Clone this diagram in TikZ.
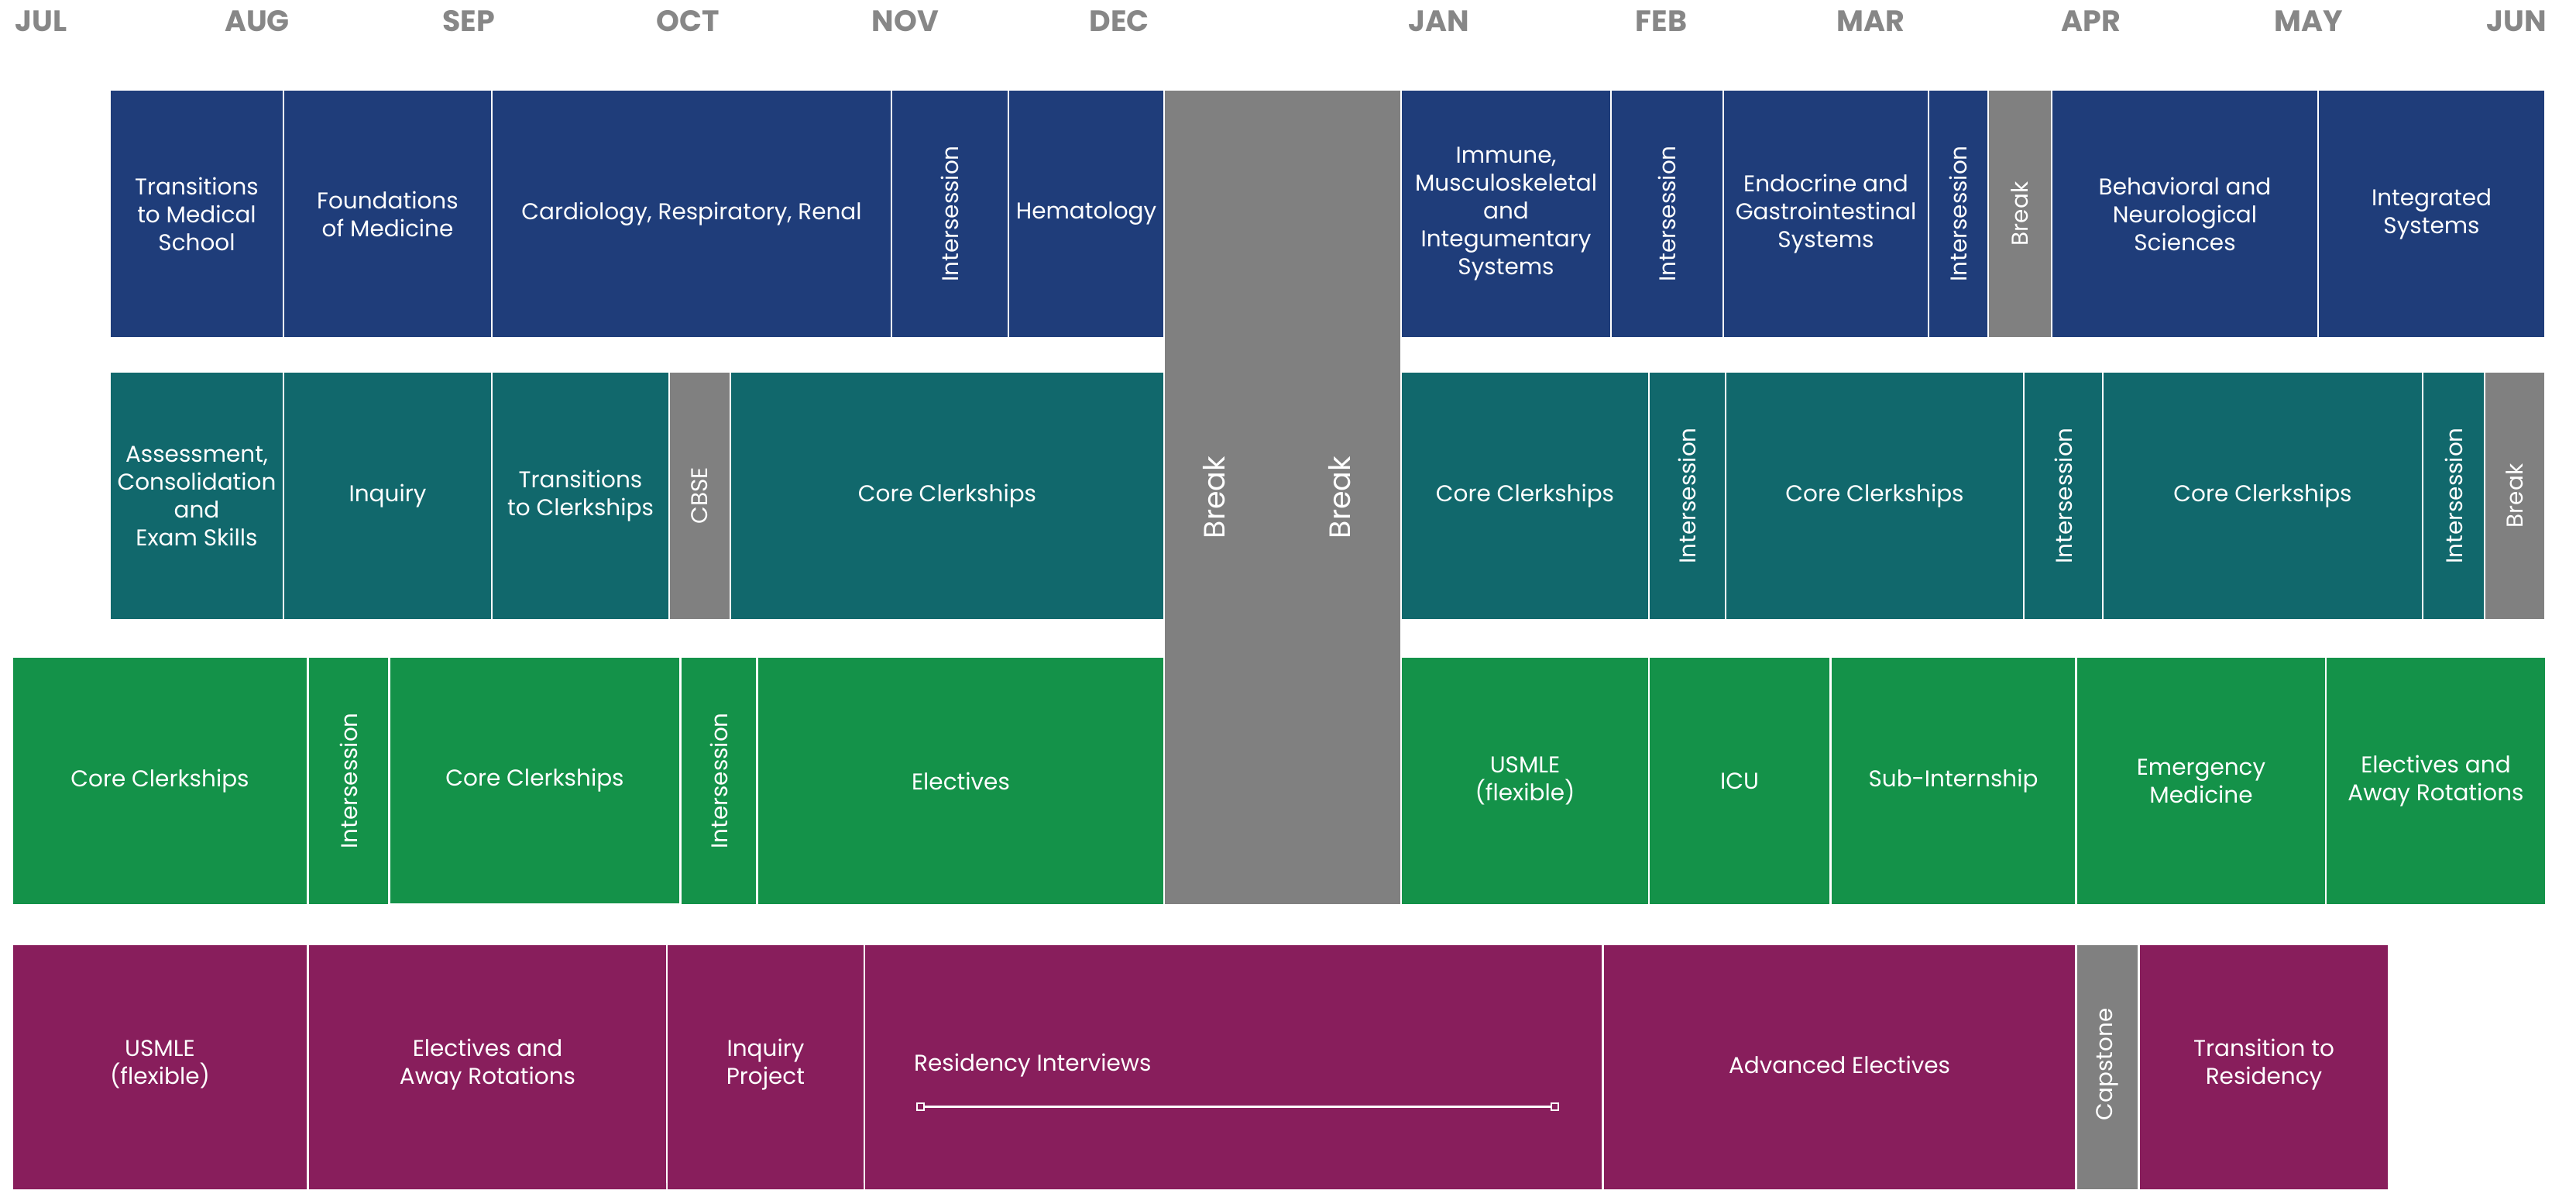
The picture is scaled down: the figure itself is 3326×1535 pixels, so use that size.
\documentclass[tikz,border=0pt]{standalone}
\usepackage{fontspec}
\setmainfont{Poppins}
\definecolor{cblue}{RGB}{31,61,122}
\definecolor{cteal}{RGB}{17,104,108}
\definecolor{cgreen}{RGB}{20,146,73}
\definecolor{cpurple}{RGB}{136,30,92}
\definecolor{cgray}{RGB}{128,128,128}
\definecolor{cmonth}{RGB}{135,135,135}
\newcommand\bodyfont{\fontsize{29.5}{36}\selectfont}
\newcommand\blkH[7]{\node[#6, minimum width={#3-#2}, minimum height={#5-#4}] (#1) at ({(#2+#3)/2},{(#4+#5)/2}) {#7};}
\newcommand\blkV[7]{\node[#6, rotate=90, minimum height={#3-#2}, minimum width={#5-#4}] (#1) at ({(#2+#3)/2},{(#4+#5)/2}) {#7};}
\tikzset{
  blk/.style={inner sep=0pt, outer sep=0pt, text=white, align=center, font=\bodyfont},
  sblue/.style={blk, fill=cblue},
  steal/.style={blk, fill=cteal},
  sgreen/.style={blk, fill=cgreen},
  spurple/.style={blk, fill=cpurple},
  sgray/.style={blk, fill=cgray},
  month/.style={anchor=base, text=cmonth, font=\fontsize{38}{38}\selectfont\bfseries, inner sep=0pt},
  vlabel/.style={rotate=90, text=white, inner sep=0pt},
  endsq/.style={draw=white, fill=cpurple, line width=2pt, minimum size=9pt, inner sep=0pt},
  rline/.style={draw=white, line width=3pt}
}
\begin{document}
\begin{tikzpicture}[x=1pt, y=-1pt]
\useasboundingbox (0,0) rectangle (3326,1535);
% months
\node[month] (jul) at (53,40) {JUL};
\node[month] (aug) at (332,40) {AUG};
\node[month] (sep) at (605,40) {SEP};
\node[month] (oct) at (888,40) {OCT};
\node[month] (nov) at (1169,40) {NOV};
\node[month] (dec) at (1445,40) {DEC};
\node[month] (jan) at (1858,40) {JAN};
\node[month] (feb) at (2145,40) {FEB};
\node[month] (mar) at (2415,40) {MAR};
\node[month] (apr) at (2700,40) {APR};
\node[month] (may) at (2981,40) {MAY};
\node[month] (jun) at (3249,40) {JUN};
% big break
\blkH{bigbreak}{1504}{1808}{117}{1167}{sgray}{}
\node[vlabel, font=\fontsize{38}{38}\selectfont] (breakA) at (1568,642) {Break};
\node[vlabel, font=\fontsize{38}{38}\selectfont] (breakB) at (1730,642) {Break};
% row 1
\blkH{a1}{143}{365}{117}{435}{sblue}{Transitions\\to Medical\\School}
\blkH{a2}{367}{634}{117}{435}{sblue}{Foundations\\of Medicine}
\blkH{a3}{636}{1150}{117}{435}{sblue}{Cardiology, Respiratory, Renal}
\blkV{a4}{1152}{1301}{117}{435}{sblue}{Intersession}
\blkH{a5}{1303}{1502}{117}{435}{sblue}{Hematology}
\blkH{a6}{1810}{2079}{117}{435}{sblue}{Immune,\\Musculoskeletal\\and\\Integumentary\\Systems}
\blkV{a7}{2081}{2224}{117}{435}{sblue}{Intersession}
\blkH{a8}{2226}{2489}{117}{435}{sblue}{Endocrine and\\Gastrointestinal\\Systems}
\blkV{a9}{2491}{2566}{117}{435}{sblue}{Intersession}
\blkV{a10}{2568}{2648}{117}{435}{sgray}{Break}
\blkH{a11}{2650}{2992}{117}{435}{sblue}{Behavioral and\\Neurological\\Sciences}
\blkH{a12}{2994}{3285}{117}{435}{sblue}{Integrated\\Systems}
% row 2
\blkH{b1}{143}{365}{481}{799}{steal}{Assessment,\\Consolidation\\and\\Exam Skills}
\blkH{b2}{367}{634}{481}{799}{steal}{Inquiry}
\blkH{b3}{636}{863}{481}{799}{steal}{Transitions\\to Clerkships}
\blkV{b4}{865}{942}{481}{799}{sgray}{CBSE}
\blkH{b5}{944}{1502}{481}{799}{steal}{Core Clerkships}
\blkH{b6}{1810}{2128}{481}{799}{steal}{Core Clerkships}
\blkV{b7}{2130}{2227}{481}{799}{steal}{Intersession}
\blkH{b8}{2229}{2612}{481}{799}{steal}{Core Clerkships}
\blkV{b9}{2614}{2714}{481}{799}{steal}{Intersession}
\blkH{b10}{2716}{3127}{481}{799}{steal}{Core Clerkships}
\blkV{b11}{3129}{3207}{481}{799}{steal}{Intersession}
\blkV{b12}{3209}{3285}{481}{799}{sgray}{Break}
% row 3
\blkH{c1}{17}{396}{849}{1167}{sgreen}{Core Clerkships}
\blkV{c2}{399}{501}{849}{1167}{sgreen}{Intersession}
\blkH{c3}{504}{877}{849}{1166}{sgreen}{Core Clerkships}
\blkV{c4}{880}{976}{849}{1167}{sgreen}{Intersession}
\blkH{c5}{979}{1502}{849}{1167}{sgreen}{Electives}
\blkH{c6}{1810}{2128}{849}{1167}{sgreen}{USMLE\\(flexible)}
\blkH{c7}{2130}{2362}{849}{1167}{sgreen}{ICU}
\blkH{c8}{2365}{2679}{849}{1167}{sgreen}{Sub-Internship}
\blkH{c9}{2682}{3002}{849}{1167}{sgreen}{Emergency\\Medicine}
\blkH{c10}{3004}{3286}{849}{1167}{sgreen}{Electives and\\Away Rotations}
% row 4
\blkH{d1}{17}{396}{1220}{1528}{spurple}{USMLE\\(flexible)}
\blkH{d2}{399}{860}{1220}{1528}{spurple}{Electives and\\Away Rotations}
\blkH{d3}{862}{1115}{1220}{1528}{spurple}{Inquiry\\Project}
\blkH{d4}{1117}{2068}{1220}{1528}{spurple}{}
\blkH{d5}{2071}{2679}{1220}{1528}{spurple}{Advanced Electives}
\blkV{d6}{2682}{2760}{1220}{1528}{sgray}{Capstone}
\blkH{d7}{2763}{3083}{1220}{1528}{spurple}{Transition to\\Residency}
\fill[cpurple] (17,1527) rectangle (396,1535) (399,1527) rectangle (860,1535) (862,1527) rectangle (1115,1535) (1117,1527) rectangle (2068,1535) (2071,1527) rectangle (2679,1535) (2763,1527) rectangle (3083,1535);
\fill[cgray] (2682,1527) rectangle (2760,1535);
\node[anchor=base west, text=white, font=\bodyfont, inner sep=0pt] (ri) at (1180,1382) {Residency Interviews};
\coordinate (riL) at (1188,1428);
\coordinate (riR) at (2007,1428);
\draw[rline] (riL) -- (riR);
\node[endsq] (sqL) at (riL) {};
\node[endsq] (sqR) at (riR) {};
\end{tikzpicture}
\end{document}
